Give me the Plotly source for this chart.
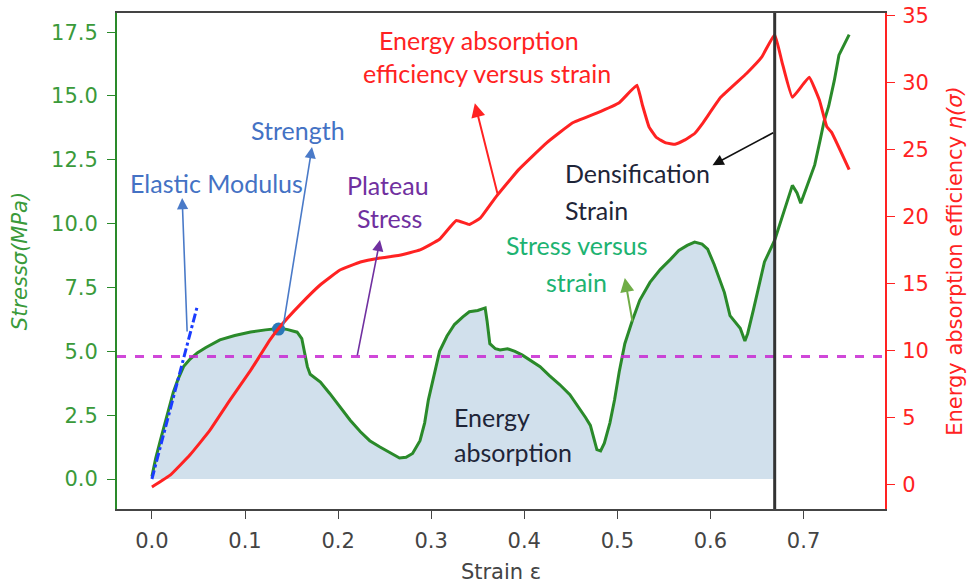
import plotly.graph_objects as go

# Stress–strain response (left axis, MPa)
strain_s = [0.000, 0.004, 0.009, 0.014, 0.018, 0.023, 0.028, 0.034, 0.041, 0.049,
            0.058, 0.073, 0.089, 0.106, 0.122, 0.138, 0.146, 0.156, 0.161, 0.164,
            0.167, 0.170, 0.181, 0.191, 0.202, 0.213, 0.224, 0.234, 0.245, 0.255,
            0.266, 0.273, 0.280, 0.288, 0.293, 0.297, 0.303, 0.309, 0.317, 0.325,
            0.334, 0.341, 0.350, 0.358, 0.360, 0.363, 0.369, 0.374, 0.382, 0.390,
            0.398, 0.406, 0.417, 0.427, 0.438, 0.449, 0.455, 0.460, 0.466, 0.471,
            0.475, 0.478, 0.482, 0.486, 0.492, 0.497, 0.502, 0.508, 0.516, 0.524,
            0.535, 0.546, 0.557, 0.566, 0.575, 0.583, 0.591, 0.597, 0.604, 0.609,
            0.615, 0.621, 0.627, 0.632, 0.637, 0.640, 0.646, 0.652, 0.658, 0.669,
            0.675, 0.682, 0.688, 0.693, 0.697, 0.702, 0.707, 0.712, 0.718, 0.722,
            0.727, 0.733, 0.738, 0.749]
stress = [0.10, 0.80, 1.50, 2.20, 2.70, 3.40, 3.90, 4.40, 4.70, 4.95,
          5.15, 5.45, 5.62, 5.76, 5.84, 5.90, 5.85, 5.75, 5.50, 5.00,
          4.40, 4.10, 3.80, 3.35, 2.80, 2.30, 1.85, 1.50, 1.25, 1.05,
          0.82, 0.85, 1.00, 1.50, 2.20, 3.10, 4.10, 5.00, 5.60, 6.05,
          6.35, 6.55, 6.60, 6.70, 6.20, 5.30, 5.10, 5.05, 5.10, 5.00,
          4.85, 4.65, 4.40, 4.05, 3.70, 3.30, 3.00, 2.70, 2.40, 2.10,
          1.50, 1.15, 1.10, 1.40, 2.20, 3.10, 4.20, 5.30, 6.20, 7.00,
          7.70, 8.20, 8.60, 8.95, 9.15, 9.28, 9.20, 9.00, 8.40, 7.90,
          7.30, 6.40, 6.10, 5.90, 5.40, 5.70, 6.60, 7.60, 8.50, 9.35,
          10.0, 10.8, 11.5, 11.2, 10.8, 11.3, 11.8, 12.3, 13.3, 14.0,
          14.6, 15.6, 16.6, 17.4]

# Energy absorption efficiency (right axis, %)
strain_e = [0.000, 0.020, 0.041, 0.062, 0.084, 0.106, 0.127, 0.138, 0.159, 0.181,
            0.202, 0.224, 0.245, 0.266, 0.288, 0.309, 0.327, 0.341, 0.353, 0.370,
            0.394, 0.424, 0.452, 0.477, 0.502, 0.521, 0.527, 0.534, 0.542, 0.552,
            0.562, 0.572, 0.583, 0.592, 0.611, 0.639, 0.655, 0.669, 0.677, 0.688,
            0.706, 0.717, 0.725, 0.730, 0.749]
efficiency = [-0.2, 0.7, 2.2, 4.0, 6.3, 8.5, 10.8, 11.8, 13.4, 14.9,
              16.0, 16.6, 16.9, 17.1, 17.5, 18.3, 19.7, 19.4, 19.9, 21.5,
              23.5, 25.5, 27.0, 27.7, 28.5, 29.8, 28.3, 26.7, 25.9, 25.5,
              25.4, 25.7, 26.2, 27.0, 28.9, 30.7, 31.9, 33.6, 31.5, 28.9,
              30.4, 28.7, 26.7, 26.3, 23.5]

# Characteristic values
PLATEAU_STRESS = 4.8
DENS_STRAIN = 0.669
STRENGTH = (0.136, 5.87)
ELASTIC_LINE_X = [0.0, 0.049]
ELASTIC_LINE_Y = [0.0, 6.8]

x_ticks = [0.0, 0.1, 0.2, 0.3, 0.4, 0.5, 0.6, 0.7]
y_ticks = [0.0, 2.5, 5.0, 7.5, 10.0, 12.5, 15.0, 17.5]
y2_ticks = [0, 5, 10, 15, 20, 25, 30, 35]

GREEN = "#2a8a2a"
GREEN_TICK = "#3a9a3a"
RED = "#ff2222"
TICK_FONT = dict(family="DejaVu Sans", size=21)
NOTE_FONT = "Lato"

fill_x = [s for s in strain_s if s <= DENS_STRAIN]
fill_y = stress[:len(fill_x)]

fig = go.Figure()

# energy absorbed up to the densification strain
fig.add_trace(go.Scatter(x=fill_x, y=fill_y, mode="lines", fill="tozeroy",
                         fillcolor="rgba(70,130,180,0.25)", line=dict(width=0),
                         hoverinfo="skip", showlegend=False))
fig.add_trace(go.Scatter(x=strain_s, y=stress, mode="lines",
                         line=dict(color=GREEN, width=3), showlegend=False))
fig.add_trace(go.Scatter(x=ELASTIC_LINE_X, y=ELASTIC_LINE_Y, mode="lines",
                         line=dict(color="#1a3cff", width=3, dash="dashdot"),
                         showlegend=False))
fig.add_trace(go.Scatter(x=[STRENGTH[0]], y=[STRENGTH[1]], mode="markers",
                         marker=dict(color="#2a78b8", size=13), showlegend=False))
fig.add_trace(go.Scatter(x=strain_e, y=efficiency, mode="lines", yaxis="y2",
                         line=dict(color=RED, width=3, shape="spline",
                                   smoothing=0.3),
                         showlegend=False))

fig.add_shape(type="line", xref="paper", x0=0, x1=1, yref="y",
              y0=PLATEAU_STRESS, y1=PLATEAU_STRESS,
              line=dict(color="rgba(200,40,210,0.85)", width=3, dash="dash"))
fig.add_shape(type="line", xref="x", x0=DENS_STRAIN, x1=DENS_STRAIN,
              yref="paper", y0=0, y1=1, line=dict(color="#333333", width=3))


def arrow(tail, head, color, width=1.6):
    fig.add_annotation(x=head[0], y=head[1], ax=tail[0], ay=tail[1],
                       xref="x", yref="y", axref="x", ayref="y", text="",
                       showarrow=True, arrowhead=2, arrowsize=1.4,
                       arrowwidth=width, arrowcolor=color)


def note(x, y, text, color, anchor="center", size=25):
    fig.add_annotation(x=x, y=y, xref="x", yref="y", text=text, showarrow=False,
                       xanchor=anchor, yanchor="middle",
                       font=dict(family=NOTE_FONT, size=size, color=color))


arrow((0.0379, 5.72), (0.0325, 11.0), "#4a7ac8")
arrow((0.1409, 5.95), (0.172, 13.0), "#4a7ac8")
arrow((0.2203, 4.78), (0.245, 9.36), "#7030a0")
arrow((0.3716, 11.12), (0.3469, 14.72), RED, 2)
arrow((0.669, 13.59), (0.6022, 12.29), "#111111")
arrow((0.5165, 6.11), (0.508, 7.87), "#70ad47", 2)

note(0.069, 11.59, "Elastic Modulus", "#4472c4")
note(0.157, 13.66, "Strength", "#4472c4")
note(0.2535, 11.51, "Plateau", "#7030a0")
note(0.2557, 10.22, "Stress", "#7030a0")
note(0.3512, 17.19, "Energy absorption", RED)
note(0.3598, 15.90, "efficiency versus strain", RED)
note(0.4413, 11.98, "Densification", "#1e2538", "left")
note(0.4413, 10.53, "Strain", "#1e2538", "left")
note(0.4563, 9.16, "Stress versus", "#1db371")
note(0.4563, 7.71, "strain", "#1db371")
note(0.3222, 2.43, "Energy", "#1e2538", "left")
note(0.3222, 1.06, "absorption", "#1e2538", "left")

fig.update_layout(
    width=967, height=584, autosize=False,
    margin=dict(l=117, r=82, t=13, b=75),
    plot_bgcolor="white", paper_bgcolor="white",
    xaxis=dict(range=[-0.0375, 0.7875], tickvals=x_ticks, automargin=False,
               ticktext=[f"{v:.1f}" for v in x_ticks],
               showline=True, linecolor="#444444", linewidth=2, mirror=True,
               ticks="outside", ticklen=8, tickcolor="#444444", showgrid=False,
               zeroline=False, tickfont=dict(TICK_FONT, color="#444444"),
               ticklabelstandoff=4,
               title=dict(text="Strain ε", font=dict(TICK_FONT, color="#444444"),
                          standoff=16)),
    yaxis=dict(range=[-1.175, 18.25], tickvals=y_ticks, automargin=False,
               ticktext=[f"{v:.1f}" for v in y_ticks],
               showline=True, linecolor=GREEN, linewidth=2,
               ticks="outside", ticklen=8, tickcolor=GREEN, showgrid=False,
               zeroline=False, tickfont=dict(TICK_FONT, color=GREEN_TICK),
               ticklabelstandoff=5,
               title=dict(text="<i>Stressσ(MPa)</i>",
                          font=dict(TICK_FONT, color=GREEN_TICK), standoff=18)),
    yaxis2=dict(range=[-1.85, 35.2], tickvals=y2_ticks, overlaying="y",
                side="right", showline=True, linecolor=RED, linewidth=2,
                automargin=False,
                ticks="outside", ticklen=8, tickcolor=RED, showgrid=False,
                zeroline=False, tickfont=dict(TICK_FONT, color=RED),
                ticklabelstandoff=3,
                title=dict(text="Energy absorption efficiency <i>η(σ)</i>",
                           font=dict(TICK_FONT, color=RED), standoff=24)),
)

fig.write_html("out.html")
